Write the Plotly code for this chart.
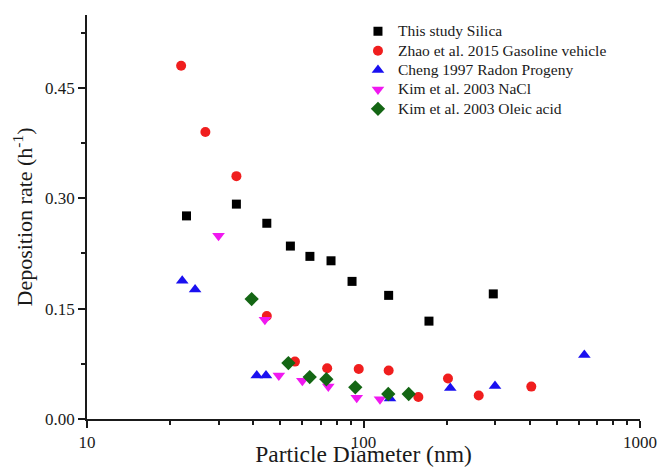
import plotly.graph_objects as go

# ---- data ----
silica_x = [22.9, 34.7, 44.7, 54.4, 64.0, 76.3, 90.9, 123.3, 172.5, 294.7]
silica_y = [0.276, 0.292, 0.266, 0.235, 0.221, 0.215, 0.187, 0.168, 0.133, 0.170]

zhao_x = [21.9, 26.8, 34.7, 44.7, 56.5, 73.9, 96.1, 123.3, 157.9, 202.1, 261.0, 404.5]
zhao_y = [0.480, 0.390, 0.330, 0.140, 0.078, 0.069, 0.068, 0.066, 0.030, 0.055, 0.032, 0.044]

cheng_x = [22.1, 24.6, 41.1, 44.4, 124.7, 206.0, 299.0, 629.0]
cheng_y = [0.188, 0.176, 0.059, 0.059, 0.028, 0.042, 0.045, 0.087]

nacl_x = [29.9, 44.0, 49.4, 60.1, 74.6, 94.5, 114.7]
nacl_y = [0.249, 0.135, 0.059, 0.052, 0.044, 0.029, 0.027]

oleic_x = [39.4, 53.5, 63.9, 73.4, 93.4, 122.9, 145.7]
oleic_y = [0.163, 0.076, 0.057, 0.054, 0.043, 0.034, 0.034]

series_names = ["This study Silica", "Zhao et al. 2015 Gasoline vehicle",
                "Cheng 1997 Radon Progeny", "Kim et al. 2003 NaCl",
                "Kim et al. 2003 Oleic acid"]

x_major = [10, 100, 1000]
x_major_text = ["10", "100", "1000"]
x_minor = [20, 30, 40, 50, 60, 70, 80, 90, 200, 300, 400, 500, 600, 700, 800, 900]
y_major = [0.0, 0.15, 0.30, 0.45]
y_major_text = ["0.00", "0.15", "0.30", "0.45"]
y_minor = [0.075, 0.225, 0.375, 0.525]

FONT = "Liberation Serif, Times New Roman, serif"
TXT = "#1a1a1a"

fig = go.Figure()
styles = [
    (silica_x, silica_y, "square", "#000000", 9),
    (zhao_x, zhao_y, "circle", "#f01e1e", 10),
    (cheng_x, cheng_y, "triangle-up", "#1a10f0", 11),
    (nacl_x, nacl_y, "triangle-down", "#f018f0", 11),
    (oleic_x, oleic_y, "diamond", "#146614", 11),
]
for (xs, ys, sym, col, sz), name in zip(styles, series_names):
    fig.add_trace(go.Scatter(
        x=xs, y=ys, mode="markers",
        name='<span style="font-size:15.5px">' + name + '</span>',
        marker=dict(symbol=sym, color=col, size=sz, line=dict(width=0))))

fig.update_layout(
    width=657, height=467,
    margin=dict(l=87, r=17, t=15, b=48, autoexpand=False),
    paper_bgcolor="white", plot_bgcolor="white",
    font=dict(family=FONT, color=TXT),
    showlegend=True,
    legend=dict(x=0.49, y=0.996, xanchor="left", yanchor="top",
                font=dict(family=FONT, size=12.6, color=TXT),
                bgcolor="rgba(0,0,0,0)", tracegroupgap=0, itemwidth=30),
    xaxis=dict(type="log", range=[1, 3], automargin=False,
               tickmode="array", tickvals=x_major, ticktext=x_major_text,
               ticks="outside", ticklen=7, tickwidth=1.5, tickcolor=TXT,
               showline=True, linecolor=TXT, linewidth=1.5,
               showgrid=False, zeroline=False,
               tickfont=dict(family=FONT, size=17, color=TXT),
               minor=dict(tickmode="array", tickvals=x_minor, ticks="outside",
                          ticklen=4, tickwidth=1.5, tickcolor=TXT, showgrid=False),
               title=dict(text="Particle Diameter (nm)", standoff=0,
                          font=dict(family=FONT, size=23.5, color=TXT))),
    yaxis=dict(range=[0, 0.549], automargin=False,
               tickmode="array", tickvals=y_major, ticktext=y_major_text,
               ticks="outside", ticklen=7, tickwidth=1.5, tickcolor=TXT,
               showline=True, linecolor=TXT, linewidth=1.5,
               showgrid=False, zeroline=False,
               tickfont=dict(family=FONT, size=17, color=TXT),
               minor=dict(tickmode="array", tickvals=y_minor, ticks="outside",
                          ticklen=4, tickwidth=1.5, tickcolor=TXT, showgrid=False),
               title=dict(text="Deposition rate (h<sup>-1</sup>)", standoff=6,
                          font=dict(family=FONT, size=22, color=TXT))),
)

fig.write_html("out.html")
